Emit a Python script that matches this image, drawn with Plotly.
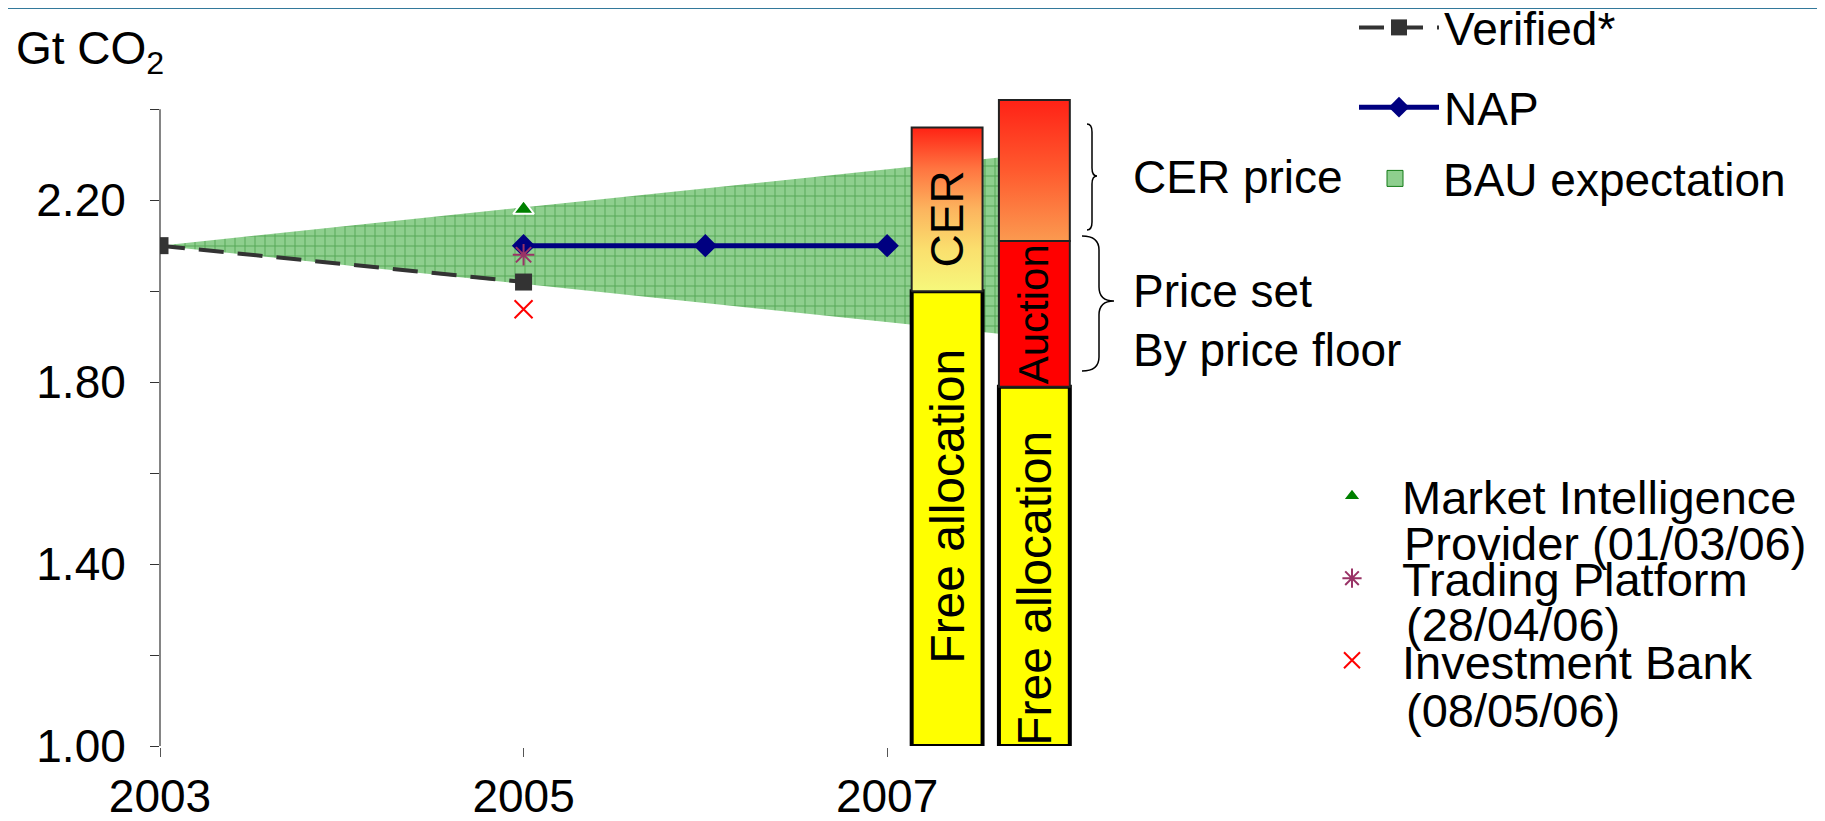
import plotly.graph_objects as go

# ---- data -------------------------------------------------------------
years = [2003, 2005]
verified = [2.10, 2.02]

nap_years = [2005, 2006, 2007]
nap = [2.10, 2.10, 2.10]

bau_years = [2003, 2008]
bau_low = [2.10, 1.89]
bau_high = [2.10, 2.31]

# forecasts published in 2006 for the 2005 emissions
forecast_year = [2005]
market_intel = [2.18]
trading_platform = [2.08]
investment_bank = [1.96]

# phase II stacks: [bar 1, bar 2]
bar_x = [2007.33, 2007.81]
y_floor = 1.00
free_alloc_top = [2.00, 1.79]
cer_top = 2.36          # bar 1, above free allocation
auction_top = 2.11      # bar 2, above free allocation
cer_price_top = 2.42    # bar 2, above auction

x_ticks = [2003, 2005, 2007]
x_ticktext = ["2003", "2005", "2007"]
y_ticks = [1.0, 1.2, 1.4, 1.6, 1.8, 2.0, 2.2, 2.4]
y_ticktext = ["1.00", "", "1.40", "", "1.80", "", "2.20", ""]

# ---- layout geometry --------------------------------------------------
# positions below are page pixels; the page body adds an 8px margin
W, H = 1825, 821
OFF = 8
L, R_EDGE, T, B_EDGE = 160 - OFF, 1078 - OFF, 91 - OFF, 746 - OFF
PW, PH = R_EDGE - L, B_EDGE - T
BAR_W = 0.39
FONT = "Liberation Sans, Arial, sans-serif"


def px(x):
    return (x - OFF - L) / PW


def py(y):
    return (B_EDGE - (y - OFF)) / PH


def box(xc, y0, y1):
    xs = [xc - BAR_W / 2, xc + BAR_W / 2, xc + BAR_W / 2, xc - BAR_W / 2, xc - BAR_W / 2]
    ys = [y0, y0, y1, y1, y0]
    return xs, ys


fig = go.Figure()

# BAU expectation band
fig.add_trace(go.Scatter(
    x=bau_years, y=bau_low, mode="lines", line=dict(width=0),
    showlegend=False, hoverinfo="skip", zorder=0))
fig.add_trace(go.Scatter(
    x=bau_years, y=bau_high, mode="lines", line=dict(width=0),
    fill="tonexty", fillcolor="#8ecf8e",
    fillpattern=dict(shape="+", bgcolor="#8ecf8e", fgcolor="#137a16",
                     size=10, solidity=0.17),
    name="BAU expectation", legendgroup="bau", showlegend=False, zorder=0))
# legend swatch for the band
fig.add_trace(go.Scatter(
    x=[None], y=[None], mode="markers", name="BAU expectation",
    legendgroup="bau", legend="legend3",
    marker=dict(symbol="square", size=16, color="#8ecf8e",
                line=dict(color="#137a16", width=1))))

# solid bar segments
fig.add_trace(go.Bar(
    x=bar_x, y=[t - y_floor for t in free_alloc_top], base=y_floor, width=BAR_W,
    marker=dict(color="#ffff00", line=dict(color="#000000", width=4)),
    showlegend=False, cliponaxis=False, zorder=1))
fig.add_trace(go.Bar(
    x=[bar_x[1]], y=[auction_top - free_alloc_top[1]], base=free_alloc_top[1],
    width=BAR_W,
    marker=dict(color="#ff0000", line=dict(color="#222222", width=2)),
    showlegend=False, cliponaxis=False, zorder=1))

# gradient segments
cx, cy = box(bar_x[0], free_alloc_top[0], cer_top)
fig.add_trace(go.Scatter(
    x=cx, y=cy, mode="lines", fill="toself",
    line=dict(color="#222222", width=2),
    fillgradient=dict(type="vertical", colorscale=[
        [0, "#f6f87c"], [0.25, "#fae06e"], [0.5, "#fcb45e"],
        [0.75, "#ff7440"], [1, "#ff2214"]]),
    showlegend=False, hoverinfo="skip", zorder=2))
bx, by = box(bar_x[1], auction_top, cer_price_top)
fig.add_trace(go.Scatter(
    x=bx, y=by, mode="lines", fill="toself",
    line=dict(color="#222222", width=2),
    fillgradient=dict(type="vertical", colorscale=[
        [0, "#fb9a50"], [0.5, "#ff5a2e"], [1, "#ff2216"]]),
    showlegend=False, hoverinfo="skip", zorder=2))

# series
fig.add_trace(go.Scatter(
    x=years, y=verified, mode="lines+markers", name="Verified*",
    line=dict(color="#333333", width=4, dash="25px,14px"),
    marker=dict(symbol="square", size=17, color="#333333"),
    legendgroup="ver", zorder=3))
fig.add_trace(go.Scatter(
    x=nap_years, y=nap, mode="lines+markers", name="NAP",
    line=dict(color="#000080", width=5),
    marker=dict(symbol="diamond", size=18, color="#000080"),
    legendgroup="nap", zorder=3))
fig.add_trace(go.Scatter(
    x=forecast_year, y=market_intel, mode="markers", name="Market Intelligence",
    marker=dict(symbol="triangle-up", size=18, color="#008000",
                line=dict(color="#ffffff", width=2)),
    legend="legend2", legendgroup="mi", zorder=4))
fig.add_trace(go.Scatter(
    x=forecast_year, y=trading_platform, mode="markers", name="Trading Platform",
    marker=dict(symbol="asterisk-open", size=18, color="#993366",
                line=dict(color="#993366", width=2)),
    legend="legend2", legendgroup="tp", zorder=4))
fig.add_trace(go.Scatter(
    x=forecast_year, y=investment_bank, mode="markers", name="Investment Bank",
    marker=dict(symbol="x-thin-open", size=18, color="#ff0000",
                line=dict(color="#ff0000", width=2)),
    legend="legend2", legendgroup="ib", zorder=4))

# text inside the bars
bar_labels = [
    ("Free allocation", bar_x[0], (y_floor + free_alloc_top[0]) / 2, 48, 12),
    ("CER", bar_x[0], (free_alloc_top[0] + cer_top) / 2, 46, -10),
    ("Free allocation", bar_x[1], (y_floor + free_alloc_top[1]) / 2, 48, -22),
    ("Auction", bar_x[1], (free_alloc_top[1] + auction_top) / 2, 42, 0),
]
annotations = []
for txt, x, y, size, shift in bar_labels:
    annotations.append(dict(
        x=x, y=y, xref="x", yref="y", text=txt, textangle=-90, showarrow=False,
        yshift=shift, font=dict(size=size, color="#000000", family=FONT)))

# free-standing text (page pixel positions)
side_text = [
    ("Gt CO<sub>2</sub>", 14, 52, 46),
    ("CER price", 1131, 177, 46),
    ("Price set", 1131, 291, 46),
    ("By price floor", 1131, 350, 46),
    ("Provider (01/03/06)", 1402, 543, 47),
    ("(28/04/06)", 1404, 624, 47),
    ("(08/05/06)", 1404, 710, 47),
]
for txt, x, y, size in side_text:
    annotations.append(dict(
        x=px(x), y=py(y), xref="paper", yref="paper", text=txt, showarrow=False,
        xanchor="left", yanchor="middle",
        font=dict(size=size, color="#000000", family=FONT)))


def brace(x_end, x_spine, x_tip, y_top, y_bot, y_mid, r):
    pts = [
        ("M", [(x_end, y_top)]),
        ("Q", [(x_spine, y_top), (x_spine, y_top + r)]),
        ("L", [(x_spine, y_mid - r)]),
        ("Q", [(x_spine, y_mid), (x_tip, y_mid)]),
        ("Q", [(x_spine, y_mid), (x_spine, y_mid + r)]),
        ("L", [(x_spine, y_bot - r)]),
        ("Q", [(x_spine, y_bot), (x_end, y_bot)]),
    ]
    out = ""
    for cmd, ps in pts:
        out += cmd + " ".join(f"{px(a):.5f},{py(b):.5f}" for a, b in ps)
    return out


shapes = [
    # top banner (partly hidden by the page margin)
    dict(type="rect", xref="paper", yref="paper", x0=px(0), x1=px(W + OFF),
         y0=py(0), y1=py(9), fillcolor="#33799b", line=dict(width=0), layer="above"),
    # y axis line (stops at the last tick)
    dict(type="line", xref="paper", yref="y", x0=0, x1=0, y0=y_ticks[0], y1=y_ticks[-1],
         line=dict(color="#333333", width=1.2)),
    dict(type="path", xref="paper", yref="paper",
         path=brace(1087, 1092, 1097, 124, 230, 176, 8),
         line=dict(color="#000000", width=1.5)),
    dict(type="path", xref="paper", yref="paper",
         path=brace(1082, 1099, 1114, 236, 371, 301, 14),
         line=dict(color="#000000", width=1.5)),
]

legend_font = dict(size=46, color="#000000", family=FONT)
fig.update_layout(
    width=W, height=H,
    margin=dict(l=L, r=W - R_EDGE, t=T, b=H - B_EDGE, autoexpand=False),
    plot_bgcolor="#ffffff", paper_bgcolor="#ffffff",
    font=dict(family=FONT, size=46, color="#000000"),
    barmode="overlay",
    showlegend=True,
    legend=dict(x=px(1354), y=py(-9), xanchor="left", yanchor="top",
                itemwidth=80, tracegroupgap=17, bgcolor="rgba(0,0,0,0)",
                font=legend_font),
    legend2=dict(x=px(1302), y=py(459), xanchor="left", yanchor="top",
                 itemwidth=90, tracegroupgap=18, bgcolor="rgba(0,0,0,0)",
                 font=dict(size=47, color="#000000", family=FONT)),
    legend3=dict(x=px(1347), y=py(142), xanchor="left", yanchor="top",
                 itemwidth=86, bgcolor="rgba(0,0,0,0)", font=legend_font),
    xaxis=dict(range=[2003, 2008.05], tickvals=x_ticks, ticktext=x_ticktext,
               showgrid=False, zeroline=False, showline=True,
               linecolor="#555555", linewidth=1.5,
               ticks="outside", ticklen=9, tickcolor="#555555",
               tickfont=dict(size=46, family=FONT)),
    yaxis=dict(range=[1.0, 2.44], tickvals=y_ticks, ticktext=y_ticktext,
               showgrid=False, zeroline=False, showline=False,
               ticks="outside", ticklen=9, tickcolor="#333333",
               ticklabelstandoff=15,
               tickfont=dict(size=46, family=FONT)),
    annotations=annotations,
    shapes=shapes,
)

fig.write_html("out.html")
